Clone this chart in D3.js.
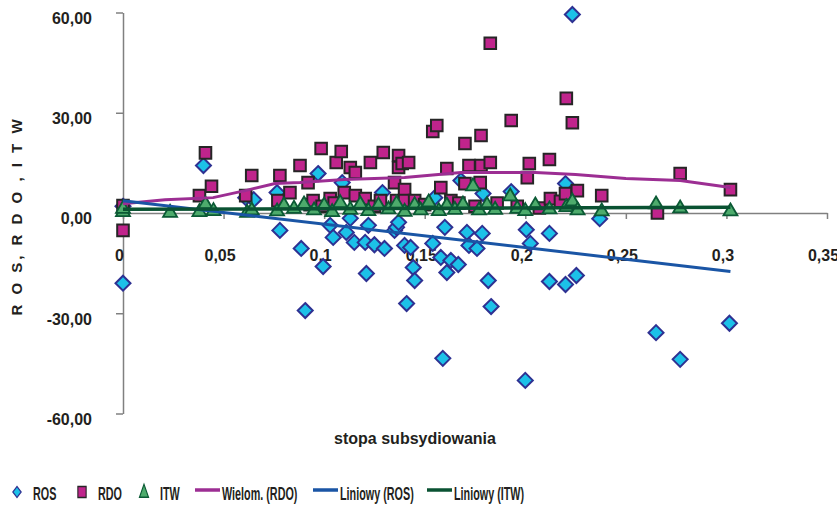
<!DOCTYPE html>
<html>
<head>
<meta charset="utf-8">
<script src="https://cdn.jsdelivr.net/npm/d3@7"></script>
<style>
  body { margin: 0; background: #fff; }
  svg { display: block; font-family: Arial, "Liberation Sans", sans-serif; }
</style>
</head>
<body>
<div id="chart"></div>
<script>
// values (x = stopa subsydiowania)
var rosData = [
  [0, -21], [0, 2], [0.040, 14.2], [0.061, 4.6], [0.065, 4], [0.0766, 6.1], [0.078, -5.2],
  [0.0886, -10.6], [0.0906, -29.2], [0.097, 11.8], [0.0995, -16], [0.103, -3.7], [0.1045, -7.3],
  [0.109, 9.1], [0.111, -5.8], [0.113, -1.6], [0.115, -8.8], [0.1204, -8.8], [0.121, -18.1],
  [0.122, -3.7], [0.125, -9.5], [0.129, 6.1], [0.130, -10.6], [0.135, -5.2], [0.136, -4.3],
  [0.137, -2.8], [0.140, -9.7], [0.143, -10.3], [0.1443, -16.3], [0.145, -20.2], [0.141, -27.1],
  [0.154, -9.1], [0.155, 4.6], [0.158, -13.3], [0.160, -4.3], [0.161, -17.8], [0.159, -43.5],
  [0.163, -14.2], [0.1667, -15.4], [0.168, 9.7], [0.171, -5.8], [0.172, -9.7], [0.176, -10.6],
  [0.1786, -6.1], [0.179, 5.8], [0.1816, -20.2], [0.183, -28], [0.193, 6.4], [0.2005, -5],
  [0.2025, -9.1], [0.200, -50.1], [0.212, -6.1], [0.212, -20.5], [0.220, 8.8], [0.220, -21.4],
  [0.2254, -18.7], [0.2234, 59.4], [0.237, -1.7], [0.265, -35.8], [0.277, -43.8], [0.3015, -33]
];
var rdoData = [
  [0, 2.2], [0, -5.2], [0.038, 5.2], [0.041, 18], [0.044, 8], [0.061, 5.2], [0.064, 11.2],
  [0.077, 3.7], [0.078, 11.2], [0.083, 6.1], [0.088, 14.2], [0.092, 9.1], [0.093, 2.5],
  [0.0945, 3.7], [0.0985, 19.3], [0.099, 2], [0.103, 4.3], [0.105, 3], [0.106, 15.1],
  [0.1085, 18.4], [0.110, 6.1], [0.113, 13.6], [0.1155, 12.1], [0.1155, 5.2], [0.1204, 4.3],
  [0.123, 15.1], [0.125, 2], [0.128, 3.7], [0.1294, 18.1], [0.135, 9.1], [0.136, 3.7],
  [0.137, 17.2], [0.137, 13.6], [0.1388, 14.8], [0.140, 7], [0.140, 3.7], [0.142, 15.1],
  [0.145, 3.7], [0.150, 2.5], [0.154, 24.4], [0.156, 26.2], [0.158, 7.6], [0.161, 13.3],
  [0.163, 3.7], [0.167, 3], [0.170, 20.8], [0.170, 8.8], [0.172, 14.2], [0.175, 2],
  [0.1776, 9.1], [0.178, 14.2], [0.178, 23.2], [0.1826, 15.1], [0.1826, 50.8], [0.186, 3],
  [0.193, 27.7], [0.196, 2], [0.201, 10.6], [0.202, 14.8], [0.207, 1.5], [0.212, 16.0],
  [0.2125, 4.3], [0.2175, 3.5], [0.2204, 34.3], [0.22, 5.8], [0.2234, 27], [0.2259, 6.7],
  [0.238, 5.2], [0.2657, 0], [0.277, 11.8], [0.302, 7]
];
var itwData = [
  [0, 0.5], [0, 1.5], [0.0234, 0.3], [0.038, 0.5], [0.041, 2.8], [0.045, 0.8], [0.0617, 0.3],
  [0.064, 1], [0.0766, 0.7], [0.08, 2.5], [0.085, 1.5], [0.09, 2.8], [0.095, 1], [0.1, 2.5],
  [0.104, 0.5], [0.108, 3.2], [0.113, 1.2], [0.118, 2.8], [0.122, 0.8], [0.127, 2.5],
  [0.132, 1.3], [0.136, 3], [0.14, 0.6], [0.145, 2.6], [0.148, 1], [0.152, 3.4], [0.157, 0.8],
  [0.161, 2.5], [0.165, 1.2], [0.169, 2.8], [0.174, 8.2], [0.177, 1], [0.181, 2.6],
  [0.185, 1.2], [0.1925, 5.2], [0.196, 1.5], [0.2, 0.8], [0.205, 2.5], [0.212, 1.3],
  [0.2204, 2], [0.2234, 3.7], [0.226, 1], [0.238, 0.7], [0.265, 2.8], [0.277, 1.6], [0.302, 0.7]
];
// trend lines as drawn in the picture
var rdoPoly = [
  [0, 2.8], [0.0209, 4.0], [0.0448, 4.6], [0.0607, 6.7], [0.0756, 8.8], [0.088, 9.1],
  [0.110, 10.0], [0.140, 10.6], [0.168, 12.1], [0.205, 12.1], [0.225, 11.5], [0.250, 10.3],
  [0.277, 9.7], [0.302, 7.6]
];
var rosTrend = [[0, 3.7], [0.302, -17.5]];
var itwTrend = [[0, 1.1], [0.302, 1.7]];

var xTicks = [0, 0.05, 0.1, 0.15, 0.2, 0.25, 0.3, 0.35];
var yTicks = [-60, -30, 0, 30, 60];

var width = 837, height = 507;

var colors = {
  rosFill: "#1cc1e8", rosStroke: "#2e3192",
  rdoFill: "#c0248c", rdoStroke: "#262626",
  itwFill: "#4dab6c", itwStroke: "#0b5a35",
  poly: "#9c2e93", rosLine: "#1a55a5", itwLine: "#0a5232",
  axis: "#808080", text: "#231f20"
};

var svg = d3.select("#chart").append("svg")
    .attr("width", width)
    .attr("height", height);

var x = d3.scaleLinear().domain([0, 0.35]).range([123, 827]);
var y = d3.scaleLinear().domain([-60, 60]).range([413.5, 12.5]);

// y axis
var yAxis = svg.append("g")
    .attr("transform", "translate(" + x(0) + ",0)")
    .call(d3.axisLeft(y).tickValues(yTicks).tickSize(7).tickSizeOuter(0).tickPadding(24)
        .tickFormat(function (d) { return d.toFixed(2).replace(".", ","); }));
yAxis.selectAll("text").attr("dy", "0.68em")
    .style("font-size", "16px").style("font-weight", "bold").attr("fill", colors.text);

// x axis on y = 0
var xAxis = svg.append("g")
    .attr("transform", "translate(0," + y(0) + ")")
    .call(d3.axisBottom(x).tickValues(xTicks).tickSize(6).tickSizeOuter(0).tickPadding(31)
        .tickFormat(function (d) { return String(d).replace(".", ","); }));
xAxis.selectAll("text").attr("dx", "-4")
    .style("font-size", "16px").style("font-weight", "bold").attr("fill", colors.text);

svg.selectAll(".domain, .tick line").attr("stroke", colors.axis).attr("stroke-width", 1.5);

// axis titles
svg.append("text")
    .attr("x", 415).attr("y", 444)
    .attr("text-anchor", "middle")
    .style("font-size", "16px").style("font-weight", "bold")
    .attr("fill", colors.text)
    .text("stopa subsydiowania");

svg.append("text")
    .attr("transform", "translate(22,216) rotate(-90)")
    .attr("text-anchor", "middle")
    .style("font-size", "15px").style("font-weight", "bold")
    .style("letter-spacing", "3px")
    .attr("fill", colors.text)
    .text("R O S, R D O , I T W");

// marker shapes
function diamond(r) { return "M0," + (-r) + "L" + r + ",0L0," + r + "L" + (-r) + ",0Z"; }
function square(s) { return "M" + (-s) + "," + (-s) + "H" + s + "V" + s + "H" + (-s) + "Z"; }
function triangle(w, h) { return "M0," + (-h * 0.6) + "L" + w + "," + (h * 0.4) + "L" + (-w) + "," + (h * 0.4) + "Z"; }

svg.append("g").selectAll("path")
    .data(rosData).enter().append("path")
    .attr("d", diamond(7.5))
    .attr("transform", function (d) { return "translate(" + x(d[0]) + "," + y(d[1]) + ")"; })
    .attr("fill", colors.rosFill).attr("stroke", colors.rosStroke).attr("stroke-width", 2);

svg.append("g").selectAll("path")
    .data(rdoData).enter().append("path")
    .attr("d", square(5.8))
    .attr("transform", function (d) { return "translate(" + x(d[0]) + "," + y(d[1]) + ")"; })
    .attr("fill", colors.rdoFill).attr("stroke", colors.rdoStroke).attr("stroke-width", 2);

svg.append("g").selectAll("path")
    .data(itwData).enter().append("path")
    .attr("d", triangle(7, 12))
    .attr("transform", function (d) { return "translate(" + x(d[0]) + "," + y(d[1]) + ")"; })
    .attr("fill", colors.itwFill).attr("stroke", colors.itwStroke).attr("stroke-width", 1.8);

// trend lines
var line = d3.line().x(function (d) { return x(d[0]); }).y(function (d) { return y(d[1]); });

svg.append("path").datum(rdoPoly).attr("d", line)
    .attr("fill", "none").attr("stroke", colors.poly).attr("stroke-width", 3);
svg.append("path").datum(rosTrend).attr("d", line)
    .attr("fill", "none").attr("stroke", colors.rosLine).attr("stroke-width", 3);
svg.append("path").datum(itwTrend).attr("d", line)
    .attr("fill", "none").attr("stroke", colors.itwLine).attr("stroke-width", 3.5);

// legend
var legendItems = [
  { label: "ROS", kind: "diamond", x: 17 },
  { label: "RDO", kind: "square", x: 82 },
  { label: "ITW", kind: "triangle", x: 144 },
  { label: "Wielom. (RDO)", kind: "line", color: colors.poly, x: 195 },
  { label: "Liniowy (ROS)", kind: "line", color: colors.rosLine, x: 313 },
  { label: "Liniowy (ITW)", kind: "line", color: colors.itwLine, x: 427 }
];

var legend = svg.append("g");
legendItems.forEach(function (it) {
  var g = legend.append("g");
  var tx;
  if (it.kind === "line") {
    g.append("line").attr("x1", it.x).attr("x2", it.x + 25).attr("y1", 490).attr("y2", 490)
        .attr("stroke", it.color).attr("stroke-width", 3.5);
    tx = it.x + 27;
  } else {
    var p = g.append("path").attr("transform", "translate(" + it.x + ",492) scale(0.75,1)");
    if (it.kind === "diamond") {
      p.attr("d", diamond(5.5)).attr("fill", colors.rosFill).attr("stroke", colors.rosStroke).attr("stroke-width", 1.5);
    } else if (it.kind === "square") {
      p.attr("d", square(5.5)).attr("fill", colors.rdoFill).attr("stroke", colors.rdoStroke).attr("stroke-width", 1.5);
    } else {
      p.attr("d", triangle(6, 13)).attr("fill", colors.itwFill).attr("stroke", colors.itwStroke).attr("stroke-width", 1.5);
    }
    tx = it.x + 16;
  }
  g.append("text")
      .attr("transform", "translate(" + tx + ",500) scale(0.6,1)")
      .style("font-size", "18px").style("font-weight", "bold")
      .attr("fill", colors.text)
      .text(it.label);
});
</script>
</body>
</html>
